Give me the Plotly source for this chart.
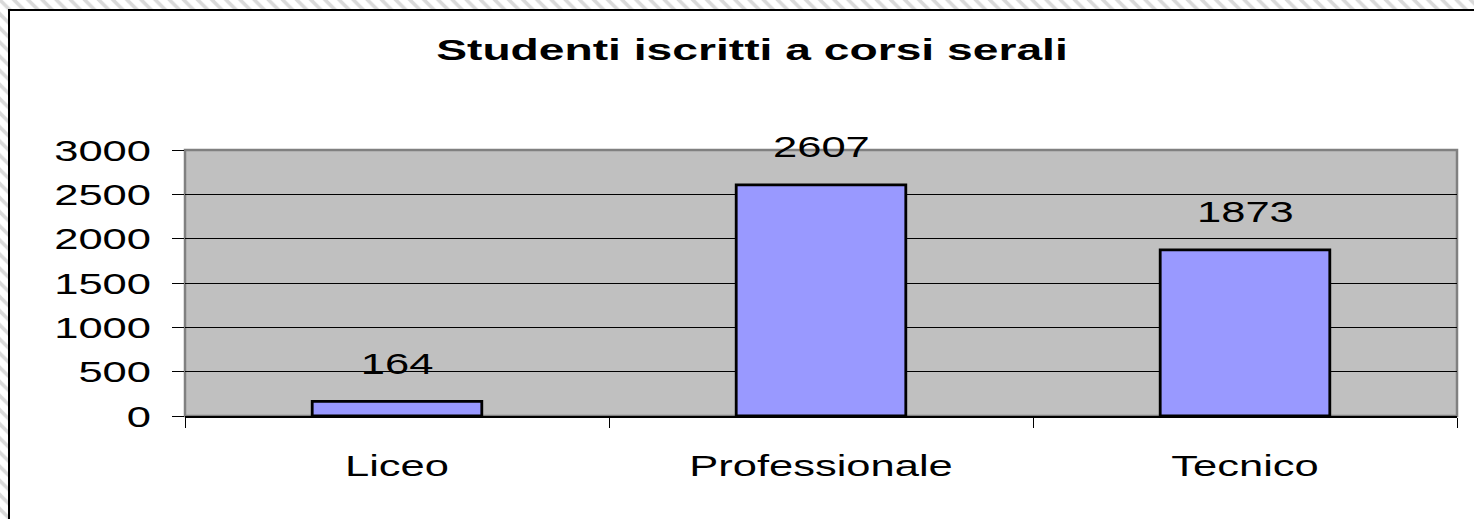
import plotly.graph_objects as go

# ---- data ----
categories = ["Liceo", "Professionale", "Tecnico"]
students = [164, 2607, 1873]
y_ticks = [0, 500, 1000, 1500, 2000, 2500, 3000]
title_text = "Studenti iscritti a corsi serali"

W, H = 1474, 519
FONT = "Liberation Sans, Arial, sans-serif"

# plot area in pixels
px_l, px_r, px_t, px_b = 185, 1457, 150, 416
dom_x = [px_l / W, px_r / W]
dom_y = [1 - px_b / H, 1 - px_t / H]

fig = go.Figure()

fig.add_trace(go.Bar(
    x=categories, y=students,
    marker=dict(color="#9999FF", line=dict(color="black", width=2.8)),
    width=0.4,
    hoverinfo="x+y",
    showlegend=False,
))

# hatched strip outside the chart border (decorative background)
hx = [0, 9, 9, 0, 0, None, 0, W, W, 0, 0]
hy = [0, 0, H, H, 0, None, 0, 0, 10, 10, 0]
fig.add_trace(go.Scatter(
    x=hx, y=hy, xaxis="x2", yaxis="y2", mode="lines",
    line=dict(width=0), fill="toself", fillcolor="white",
    fillpattern=dict(shape="\\", fgcolor="#d9d9d9", bgcolor="white", size=10, solidity=0.35),
    hoverinfo="skip", showlegend=False,
))

# data labels
for c, v in zip(categories, students):
    fig.add_annotation(x=c, y=v, text=str(v), showarrow=False,
                       yanchor="middle", yshift=38,
                       font=dict(family=FONT, size=30, color="black"))

fig.update_layout(
    template="none",
    width=W, height=H,
    autosize=False,
    margin=dict(l=0, r=0, t=0, b=0, pad=0, autoexpand=False),
    paper_bgcolor="white",
    plot_bgcolor="rgba(0,0,0,0)",
    showlegend=False,
    bargap=0.6,
    title=dict(text=title_text, x=752 / W, xanchor="center",
               y=1 - 49 / H, yanchor="middle", automargin=False,
               font=dict(family=FONT, size=30, color="black", weight="bold")),
    xaxis=dict(
        domain=dom_x, type="category", automargin=False,
        showgrid=False, zeroline=False,
        showline=True, linecolor="black", linewidth=1.5,
        ticks="outside", tickson="boundaries", ticklen=10, tickcolor="black", tickwidth=1,
        tickfont=dict(family=FONT, size=30, color="black"),
        ticklabelstandoff=22,
    ),
    yaxis=dict(
        domain=dom_y, range=[0, 3000], tickvals=y_ticks, automargin=False,
        showgrid=True, gridcolor="black", gridwidth=1,
        zeroline=False, showline=False,
        ticks="outside", ticklen=12, tickcolor="black", tickwidth=1,
        tickfont=dict(family=FONT, size=30, color="black"),
        ticklabelstandoff=15,
    ),
    xaxis2=dict(domain=[0, 1], range=[0, W], visible=False, fixedrange=True, automargin=False),
    yaxis2=dict(domain=[0, 1], range=[H, 0], visible=False, fixedrange=True, automargin=False),
    shapes=[
        # plot area background with grey border
        dict(type="rect", xref="x domain", yref="y domain", x0=0, x1=1, y0=0, y1=1,
             fillcolor="#C0C0C0", line=dict(color="#808080", width=2.5), layer="below"),
        # chart border
        dict(type="rect", xref="paper", yref="paper", x0=9 / W, x1=1.01, y0=-0.02, y1=1 - 10 / H,
             fillcolor="rgba(0,0,0,0)", line=dict(color="black", width=2), layer="above"),
    ],
)

# remove page margin and widen text horizontally like the (stretched) original
post = """
document.body.style.margin = '0';
document.body.style.overflow = 'hidden';
var gd = document.getElementById('{plot_id}');
gd.querySelectorAll('text').forEach(function(t){
  if (!t.textContent) return;
  var f = t.classList.contains('gtitle') ? 1.54 : 1.45;
  var L = t.getComputedTextLength();
  if (L > 0) {
    t.setAttribute('textLength', (L * f).toFixed(1));
    t.setAttribute('lengthAdjust', 'spacingAndGlyphs');
  }
});
"""

fig.write_html("out.html", post_script=post, config={"displayModeBar": False})
